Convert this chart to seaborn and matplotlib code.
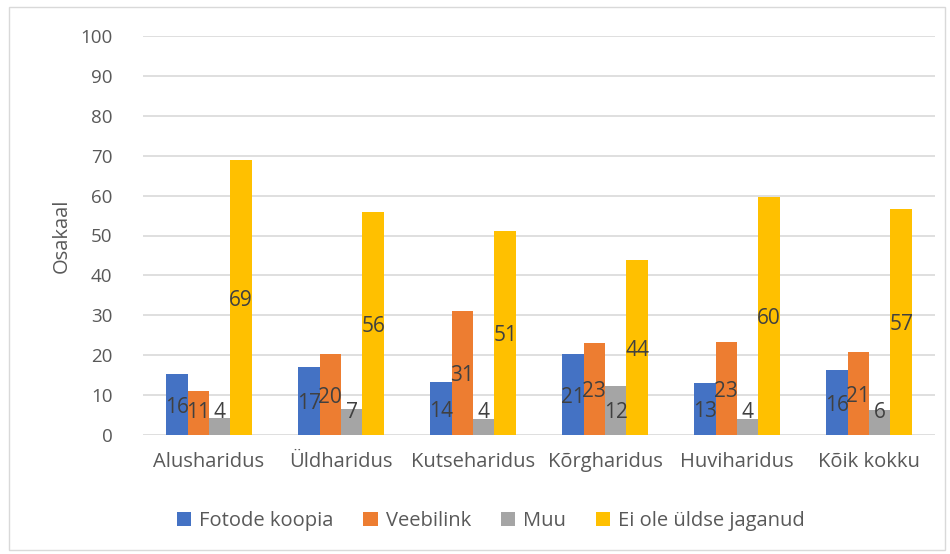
import matplotlib
matplotlib.use("Agg")
import matplotlib.pyplot as plt
import seaborn as sns
import pandas as pd
from matplotlib.patches import Rectangle

categories = ["Alusharidus", "Üldharidus", "Kutseharidus", "Kõrgharidus", "Huviharidus", "Kõik kokku"]
series = ["Fotode koopia", "Veebilink", "Muu", "Ei ole üldse jaganud"]
fotode_koopia = [15.3, 17.0, 13.4, 20.4, 13.0, 16.3]
veebilink = [11.0, 20.4, 31.1, 23.1, 23.4, 20.7]
muu = [4.3, 6.6, 3.9, 12.3, 3.9, 6.3]
ei_ole = [68.9, 55.9, 51.2, 43.9, 59.6, 56.6]
labels_fotode = ["16", "17", "14", "21", "13", "16"]
labels_veeb = ["11", "20", "31", "23", "23", "21"]
labels_muu = ["4", "7", "4", "12", "4", "6"]
labels_ei = ["69", "56", "51", "44", "60", "57"]
y_ticks = [0, 10, 20, 30, 40, 50, 60, 70, 80, 90, 100]
colors = ["#4472C4", "#ED7D31", "#A5A5A5", "#FFC000"]

values = [fotode_koopia, veebilink, muu, ei_ole]
label_sets = [labels_fotode, labels_veeb, labels_muu, labels_ei]
rows = []
for s, vals in zip(series, values):
    for c, v in zip(categories, vals):
        rows.append({"Kategooria": c, "Seeria": s, "Osakaal": v})
df = pd.DataFrame(rows)

sns.set_theme(style="white")
plt.rcParams["font.family"] = ["Open Sans", "DejaVu Sans"]
text_color = "#595959"

fig = plt.figure(figsize=(9.5, 5.54), dpi=100)
ax = fig.add_axes([143 / 950, 1 - 435 / 554, (935 - 143) / 950, (435 - 36) / 554])

sns.barplot(data=df, x="Kategooria", y="Osakaal", hue="Seeria", order=categories,
            hue_order=series, palette=colors, width=0.65, gap=0, linewidth=0,
            saturation=1, ax=ax, legend=True)

for cont, labs in zip(ax.containers, label_sets):
    for bar, lab in zip(cont, labs):
        h = bar.get_height()
        y = max(h / 2 - 0.7, 5.6)
        ax.text(bar.get_x() + bar.get_width() / 2, y, lab, ha="center", va="center",
                fontsize=15, color="#404040")

ax.set_ylim(0, 100)
ax.set_yticks(y_ticks)
ax.set_yticklabels([str(t) for t in y_ticks])
ax.set_xlim(-0.5, len(categories) - 0.5)
ax.yaxis.grid(True, color="#D9D9D9", linewidth=1.2)
ax.set_axisbelow(True)
for sp in ax.spines.values():
    sp.set_visible(False)
ax.tick_params(axis="y", length=0, pad=22, labelsize=13.5, labelcolor=text_color)
ax.tick_params(axis="x", length=0, pad=12, labelsize=14.5, labelcolor=text_color)
ax.set_xlabel("")
ax.set_ylabel("Osakaal", fontsize=14.5, color=text_color, labelpad=6)

handles, lbls = ax.get_legend_handles_labels()
ax.legend_.remove()
fig.legend(handles, lbls, loc="center", bbox_to_anchor=(491 / 950, 1 - 521 / 554), ncol=4,
           frameon=False, fontsize=14.5, labelcolor=text_color, handlelength=0.7,
           handleheight=0.7, handletextpad=0.4, columnspacing=1.5)

fig.add_artist(Rectangle((9 / 950, 4 / 554), 936 / 950, 543 / 554, transform=fig.transFigure,
                         fill=False, edgecolor="#D9D9D9", linewidth=1))

fig.savefig("out.png", dpi=100)
